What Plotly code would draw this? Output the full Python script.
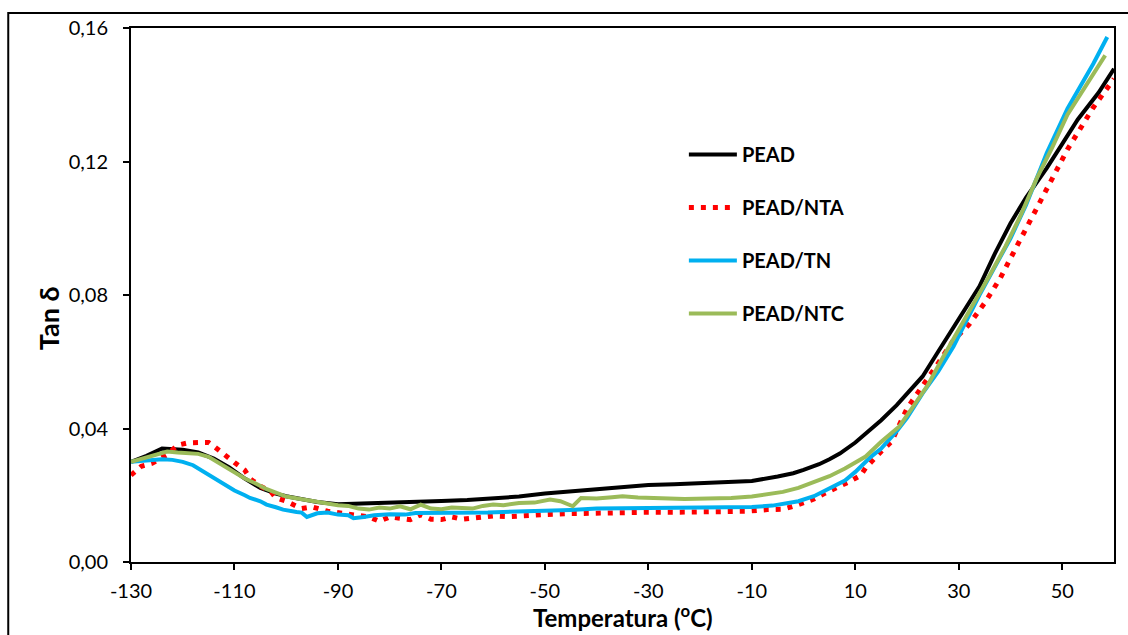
import plotly.graph_objects as go

# ---------------- data ----------------
t_pead = [-130, -127, -124, -122, -120, -117, -114, -111, -108, -105, -102, -100, -97, -94, -90, -85, -80, -75,
          -70, -65, -60, -55, -50, -45, -40, -35, -30, -25, -20, -15, -10, -5, -2, 0, 3, 5, 7, 10, 13, 15, 18,
          20, 23, 26, 30, 34, 37, 40, 43, 47, 50, 53, 57, 60]
v_pead = [0.0300, 0.0318, 0.0340, 0.0338, 0.0336, 0.0328, 0.0310, 0.0283, 0.0250, 0.0222, 0.0205, 0.0197, 0.0187,
          0.0180, 0.0173, 0.0175, 0.0176, 0.0178, 0.0183, 0.0186, 0.0190, 0.0196, 0.0205, 0.0212, 0.0220, 0.0226,
          0.0231, 0.0233, 0.0236, 0.0238, 0.0243, 0.0256, 0.0266, 0.0276, 0.0293, 0.0308, 0.0325, 0.0358, 0.0396,
          0.0425, 0.0470, 0.0505, 0.0556, 0.0630, 0.0726, 0.0826, 0.0925, 0.1015, 0.1092, 0.1180, 0.1253, 0.1326,
          0.1406, 0.1478]

t_nta = [-130, -128, -126, -123, -121, -119, -117, -115, -114, -113, -111.5, -110, -108, -107, -105, -103, -102,
         -100, -97, -95, -92, -89, -87, -84, -82, -80, -78, -76, -74, -72, -70, -68, -66, -64, -62, -60, -57, -54,
         -50, -45, -40, -35, -30, -25, -20, -15, -11, -7, -4, -1.5, 2, 4, 7, 9, 11, 12, 15, 17, 20, 23, 26, 29,
         32, 35, 38, 40, 43, 47, 51, 56, 60]
v_nta = [0.0260, 0.0287, 0.0295, 0.0322, 0.0350, 0.0357, 0.0358, 0.0358, 0.0347, 0.0334, 0.0316, 0.0298, 0.0275,
         0.0250, 0.0227, 0.0212, 0.0192, 0.0182, 0.0160, 0.0165, 0.0152, 0.0147, 0.0142, 0.0135, 0.0122, 0.0135,
         0.0131, 0.0127, 0.0142, 0.0128, 0.0127, 0.0135, 0.0128, 0.0131, 0.0133, 0.0138, 0.0136, 0.0140, 0.0142,
         0.0145, 0.0147, 0.0149, 0.0149, 0.0149, 0.0149, 0.0150, 0.0152, 0.0157, 0.0158, 0.0169, 0.0189, 0.0205,
         0.0225, 0.0242, 0.0259, 0.0282, 0.0331, 0.0361, 0.0460, 0.0526, 0.0595, 0.0665, 0.0712, 0.0776, 0.0850,
         0.0910, 0.0999, 0.1116, 0.1236, 0.1362, 0.1448]

t_tn = [-130, -127, -124, -122, -120, -118, -116.7, -115, -113.5, -112, -110, -108, -107, -105, -103.8, -102,
        -100.6, -98, -97, -96, -94, -92, -90, -88, -87, -85, -83, -80, -77, -75, -72, -70, -67, -64, -61, -58,
        -55, -50, -45, -40, -35, -30, -25, -20, -15, -10, -6, -4, -1, 2, 5, 8, 10, 13, 15, 18, 20, 23, 26, 29,
        31, 34, 37, 40, 43, 47, 51, 54, 56, 58.7]
v_tn = [0.0300, 0.0304, 0.0308, 0.0306, 0.0300, 0.0290, 0.0278, 0.0262, 0.0248, 0.0232, 0.0214, 0.0200, 0.0192,
        0.0182, 0.0172, 0.0164, 0.0157, 0.0150, 0.0148, 0.0135, 0.0146, 0.0148, 0.0142, 0.0140, 0.0131, 0.0135,
        0.0140, 0.0143, 0.0142, 0.0147, 0.0147, 0.0146, 0.0149, 0.0147, 0.0148, 0.0150, 0.0151, 0.0153, 0.0156,
        0.0160, 0.0161, 0.0160, 0.0161, 0.0162, 0.0163, 0.0165, 0.0169, 0.0173, 0.0182, 0.0197, 0.0220, 0.0244,
        0.0270, 0.0315, 0.0340, 0.0392, 0.0432, 0.0505, 0.0570, 0.0646, 0.0708, 0.0800, 0.0885, 0.0970, 0.1070,
        0.1225, 0.1358, 0.1440, 0.1493, 0.1573]

t_ntc = [-130, -127, -124, -123, -121, -119, -117, -115, -113.5, -112, -110, -108, -106, -104, -102, -100, -97,
         -95, -92, -90, -88, -86, -84, -82, -80, -78, -76, -74, -72, -70, -68, -66, -64, -62, -60, -58, -55, -52,
         -49, -47, -44.6, -43, -40, -37, -35, -32, -29, -26, -23, -20, -17, -14, -10, -7, -4, -1, 2, 5, 8, 12,
         15, 18.5, 21, 24, 27, 30, 33, 36, 39, 42, 45, 48, 51, 54, 56, 58.3]
v_ntc = [0.0300, 0.0312, 0.0326, 0.0331, 0.0328, 0.0325, 0.0324, 0.0315, 0.0301, 0.0288, 0.0270, 0.0250, 0.0236,
         0.0220, 0.0208, 0.0196, 0.0188, 0.0182, 0.0175, 0.0170, 0.0168, 0.0160, 0.0157, 0.0163, 0.0160, 0.0167,
         0.0158, 0.0172, 0.0160, 0.0158, 0.0163, 0.0162, 0.0160, 0.0168, 0.0172, 0.0170, 0.0177, 0.0178, 0.0187,
         0.0182, 0.0167, 0.0192, 0.0190, 0.0194, 0.0197, 0.0193, 0.0190, 0.0190, 0.0189, 0.0189, 0.0190, 0.0192,
         0.0196, 0.0202, 0.0210, 0.0222, 0.0238, 0.0257, 0.0280, 0.0316, 0.0360, 0.0406, 0.0462, 0.0530, 0.0615,
         0.0695, 0.0775, 0.0860, 0.0945, 0.1040, 0.1147, 0.1240, 0.1340, 0.1415, 0.1460, 0.1518]

series_names = ["PEAD", "PEAD/NTA", "PEAD/TN", "PEAD/NTC"]
x_ticks = [-130, -110, -90, -70, -50, -30, -10, 10, 30, 50]
x_tick_labels = ["-130", "-110", "-90", "-70", "-50", "-30", "-10", "10", "30", "50"]
y_ticks = [0.00, 0.04, 0.08, 0.12, 0.16]
y_tick_labels = ["0,00", "0,04", "0,08", "0,12", "0,16"]

FONT = "Lato"

fig = go.Figure()
fig.add_trace(go.Scatter(x=t_pead, y=v_pead, mode="lines", name=series_names[0], legendgroup="a",
                         line=dict(color="#000000", width=4)))
fig.add_trace(go.Scatter(x=t_nta, y=v_nta, mode="lines", name=series_names[1], legendgroup="b",
                         line=dict(color="#FF0000", width=5, dash="5px,7px")))
fig.add_trace(go.Scatter(x=t_tn, y=v_tn, mode="lines", name=series_names[2], legendgroup="c",
                         line=dict(color="#00B0F0", width=4)))
fig.add_trace(go.Scatter(x=t_ntc, y=v_ntc, mode="lines", name=series_names[3], legendgroup="d",
                         line=dict(color="#9BBB59", width=4)))

W, H = 1128, 635
L, R, T, B = 131, 12, 28, 73
pw, ph = W - L - R, H - T - B

fig.update_layout(
    width=W, height=H,
    margin=dict(l=L, r=R, t=T, b=B),
    paper_bgcolor="white", plot_bgcolor="white",
    font=dict(family=FONT, color="black", size=20),
    showlegend=True,
    legend=dict(x=(685 - L) / pw, y=(562 - 135) / ph, xanchor="left", yanchor="top",
                bgcolor="rgba(0,0,0,0)", tracegroupgap=24, itemwidth=48,
                font=dict(family=FONT, size=20, color="black", weight="bold")),
    xaxis=dict(range=[-130, 60], tickvals=x_ticks, ticktext=x_tick_labels, ticks="outside", ticklen=6,
               tickwidth=2, tickcolor="black", showline=True, linecolor="black", linewidth=2, mirror=True,
               showgrid=False, zeroline=False, ticklabelstandoff=4,
               tickfont=dict(family=FONT, size=20, color="black")),
    yaxis=dict(range=[0, 0.16], tickvals=y_ticks, ticktext=y_tick_labels, ticks="outside", ticklen=6,
               tickwidth=2, tickcolor="black", showline=True, linecolor="black", linewidth=2,
               mirror=True, showgrid=False, zeroline=False, ticklabelstandoff=11,
               tickfont=dict(family=FONT, size=20, color="black")),
    annotations=[
        dict(text="Temperatura (<sup>o</sup>C)", xref="paper", yref="paper",
             x=(624 - L) / pw, y=(562 - 634) / ph, xanchor="center", yanchor="bottom",
             showarrow=False, font=dict(family=FONT, size=24, color="black", weight="bold")),
        dict(text="Tan δ", xref="paper", yref="paper", textangle=-90,
             x=(48 - L) / pw, y=(562 - 318) / ph, xanchor="center", yanchor="middle",
             showarrow=False, font=dict(family=FONT, size=27, color="black", weight="bold")),
    ],
    shapes=[dict(type="rect", xref="paper", yref="paper",
                 x0=(8 - L) / pw, x1=(1140 - L) / pw, y0=(562 - 650) / ph, y1=(562 - 13) / ph,
                 line=dict(color="black", width=2), fillcolor="rgba(0,0,0,0)", layer="below")],
)

fig.write_html("out.html")
